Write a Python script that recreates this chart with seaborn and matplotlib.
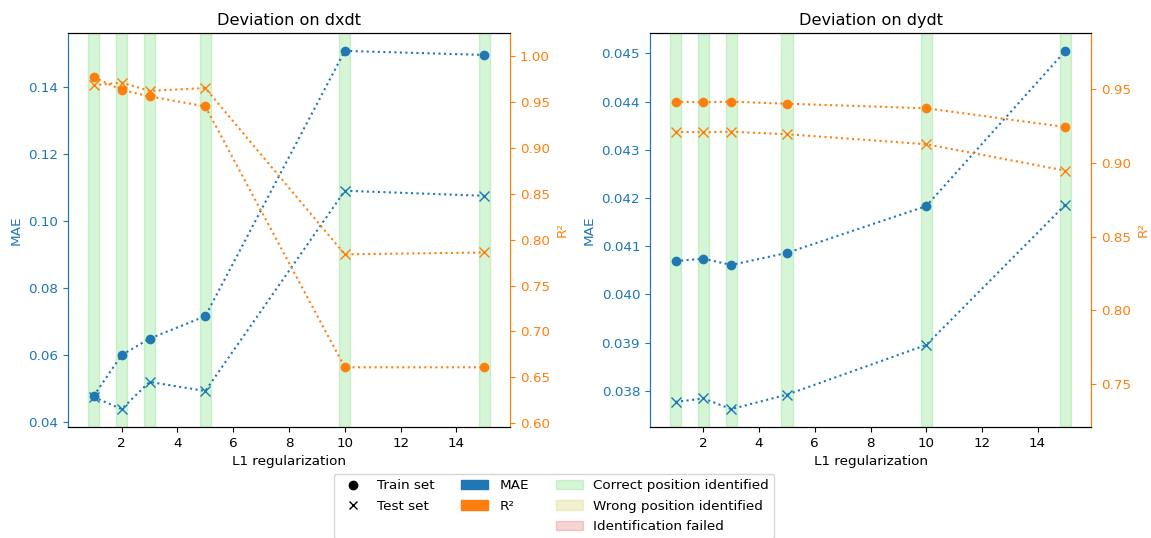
import matplotlib
matplotlib.use('Agg')
import matplotlib.pyplot as plt
import seaborn as sns
import pandas as pd
from matplotlib.lines import Line2D
from matplotlib.patches import Patch

# L1 regularization values tested
l1_values = [1, 2, 3, 5, 10, 15]

# dxdt
dxdt_mae_train = [0.0478, 0.0600, 0.0649, 0.0716, 0.1507, 0.1495]
dxdt_mae_test = [0.0475, 0.0439, 0.0520, 0.0493, 0.1090, 0.1075]
dxdt_r2_train = [0.977, 0.963, 0.956, 0.945, 0.661, 0.661]
dxdt_r2_test = [0.968, 0.971, 0.962, 0.965, 0.784, 0.786]

# dydt
dydt_mae_train = [0.04069, 0.04074, 0.04061, 0.04086, 0.04183, 0.04505]
dydt_mae_test = [0.03777, 0.03784, 0.03762, 0.03792, 0.03895, 0.04186]
dydt_r2_train = [0.9416, 0.9412, 0.9416, 0.9402, 0.9371, 0.9244]
dydt_r2_test = [0.9212, 0.9208, 0.9212, 0.9195, 0.9127, 0.8948]

# identification outcome per L1 value (all correct here)
dxdt_status = ['correct'] * 6
dydt_status = ['correct'] * 6

status_colors = {'correct': 'limegreen', 'wrong': 'tab:olive', 'failed': 'tab:red'}

panels = [
    ('dxdt', dxdt_mae_train, dxdt_mae_test, dxdt_r2_train, dxdt_r2_test, dxdt_status, (0.596, 1.025)),
    ('dydt', dydt_mae_train, dydt_mae_test, dydt_r2_train, dydt_r2_test, dydt_status, (0.7208, 0.9882)),
]

plt.rcParams['font.size'] = 9.7

fig = plt.figure(figsize=(11.51, 5.38), dpi=100)
positions = [[0.0591, 0.2063, 0.3840, 0.7324], [0.5647, 0.2063, 0.3832, 0.7324]]

for pos, (name, mae_tr, mae_te, r2_tr, r2_te, status, r2_lim) in zip(positions, panels):
    ax = fig.add_axes(pos)
    ax2 = ax.twinx()

    for x, s in zip(l1_values, status):
        ax.axvspan(x - 0.2, x + 0.2, color=status_colors[s], alpha=0.2)

    df = pd.DataFrame({'L1': l1_values, 'mae_train': mae_tr, 'mae_test': mae_te,
                       'r2_train': r2_tr, 'r2_test': r2_te})

    sns.lineplot(data=df, x='L1', y='mae_train', ax=ax, color='tab:blue',
                 linestyle=':', marker='o', markersize=7, markeredgewidth=0, legend=False)
    sns.lineplot(data=df, x='L1', y='mae_test', ax=ax, color='tab:blue',
                 linestyle=':', marker='x', markersize=6.5, markeredgecolor='tab:blue',
                 markeredgewidth=1.0, legend=False)
    sns.lineplot(data=df, x='L1', y='r2_train', ax=ax2, color='tab:orange',
                 linestyle=':', marker='o', markersize=7, markeredgewidth=0, legend=False)
    sns.lineplot(data=df, x='L1', y='r2_test', ax=ax2, color='tab:orange',
                 linestyle=':', marker='x', markersize=6.5, markeredgecolor='tab:orange',
                 markeredgewidth=1.0, legend=False)

    ax2.set_ylim(*r2_lim)

    ax.set_title(f'Deviation on {name}')
    ax.set_xlabel('L1 regularization')
    ax.set_ylabel('MAE', color='tab:blue')
    ax2.set_ylabel('R²', color='tab:orange')
    ax.tick_params(axis='y', colors='tab:blue')
    ax2.tick_params(axis='y', colors='tab:orange')
    ax2.spines['left'].set_color('tab:blue')
    ax2.spines['right'].set_color('tab:orange')
    ax.spines['left'].set_color('tab:blue')
    ax.spines['right'].set_color('tab:orange')

blank = Line2D([], [], linestyle='None', marker='None')
handles = [
    Line2D([], [], color='black', marker='o', linestyle='None'),
    Line2D([], [], color='black', marker='x', linestyle='None'),
    blank,
    Patch(color='tab:blue'),
    Patch(color='tab:orange'),
    blank,
    Patch(color='limegreen', alpha=0.2),
    Patch(color='tab:olive', alpha=0.2),
    Patch(color='tab:red', alpha=0.2),
]
labels = ['Train set', 'Test set', '', 'MAE', 'R²', '',
          'Correct position identified', 'Wrong position identified', 'Identification failed']
fig.legend(handles, labels, ncol=3, loc='upper left', bbox_to_anchor=(0.290, 0.119),
           borderaxespad=0, labelspacing=0.55)

fig.savefig('out.png', dpi=100)
